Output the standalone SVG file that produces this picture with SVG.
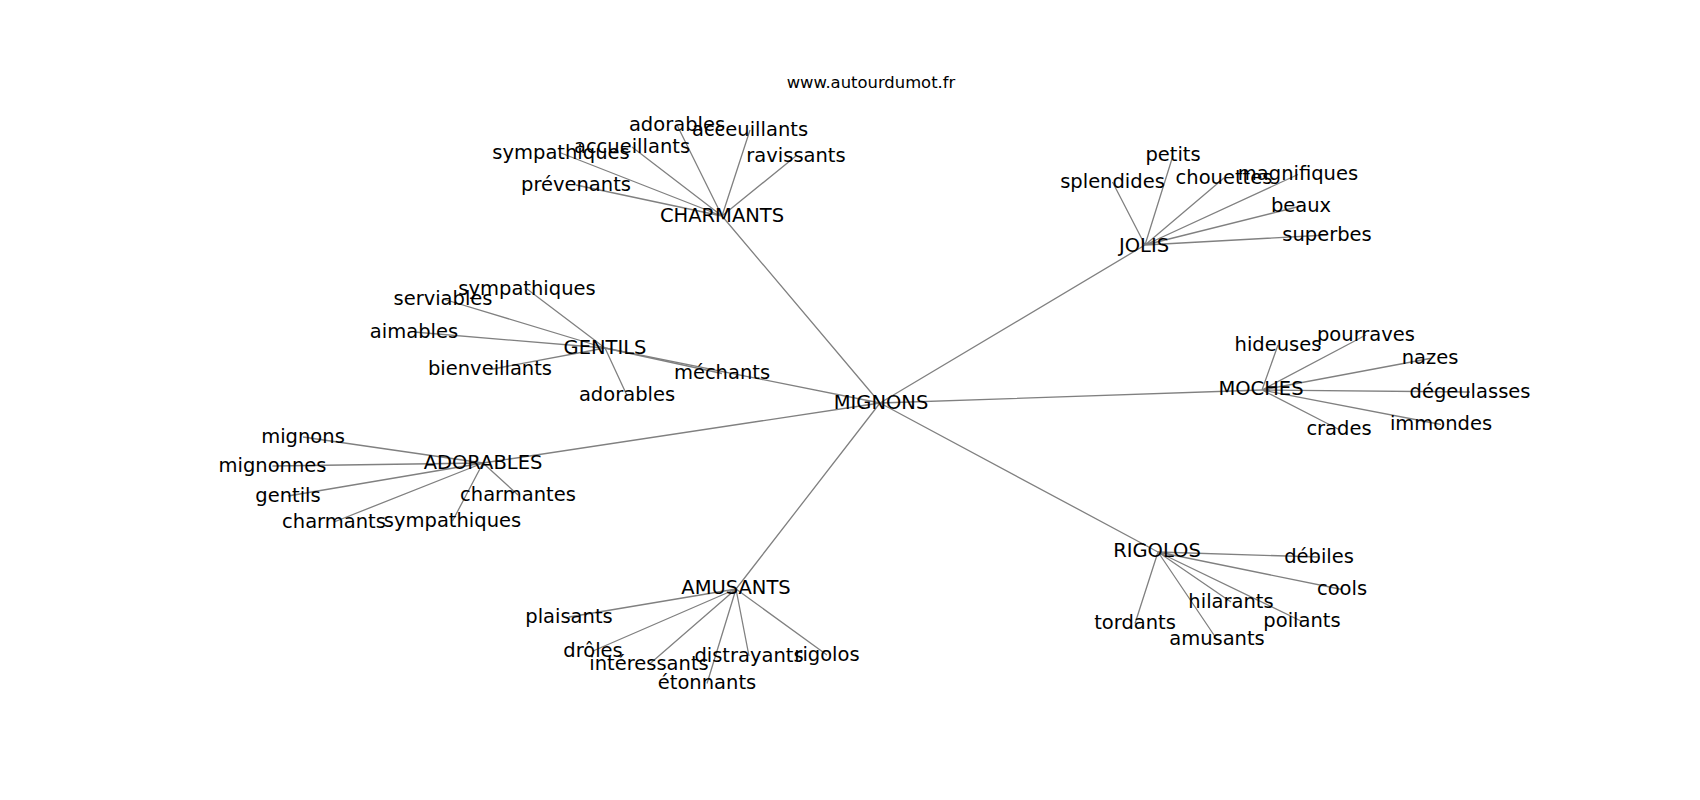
<svg xmlns="http://www.w3.org/2000/svg" width="1700" height="800" viewBox="0 0 1700 800">
<style>
.e{stroke:#808080;stroke-width:1.3;fill:none}
text{font-family:"DejaVu Sans","Liberation Sans",sans-serif;font-size:19.5px;fill:#000;text-anchor:middle}
.t{font-size:16.4px}
</style>
<rect width="1700" height="800" fill="#fff"/>
<text class="t" x="871" y="88">www.autourdumot.fr</text>
<g id="edges">
<path class="e" d="M880,403L722,216M880,403L1145,245M880,403L605,348M880,403L1262,390M880,403L483,463M880,403L736,589M880,403L1158,552"/>
<path class="e" d="M722,216L677,125M722,216L750,130M722,216L796,156M722,216L632,147M722,216L561,153M722,216L576,185"/>
<path class="e" d="M605,348L527,289M605,348L443,299M605,348L414,332M605,348L490,369.5M605,348L627,395.5M605,348L722,373.5"/>
<path class="e" d="M483,463L303,437M483,463L272.5,466M483,463L288,496M483,463L334,522M483,463L452.5,521M483,463L518,495"/>
<path class="e" d="M1145,245L1173,155.5M1145,245L1112.5,182M1145,245L1224,178M1145,245L1298,174.5M1145,245L1301,206M1145,245L1327,235"/>
<path class="e" d="M1262,390L1278,345M1262,390L1366,335M1262,390L1430,358.5M1262,390L1470,392M1262,390L1441,424.5M1262,390L1339,429.5"/>
<path class="e" d="M1158,552L1319,557M1158,552L1342,589.5M1158,552L1231,602M1158,552L1302,621.5M1158,552L1135,623.5M1158,552L1217,639.5"/>
<path class="e" d="M736,589L569,617M736,589L593,651M736,589L649,664.5M736,589L707,683.5M736,589L749,656M736,589L827,655"/>
</g>
<g id="n-mignons"><text x="881" y="408.5">MIGNONS</text></g>
<g id="n-charmants"><text x="722" y="221.5">CHARMANTS</text></g>
<g id="n-charmants-adorables"><text x="677" y="130.5">adorables</text></g>
<g id="n-charmants-acceuillants"><text x="750" y="135.5">acceuillants</text></g>
<g id="n-charmants-ravissants"><text x="796" y="161.5">ravissants</text></g>
<g id="n-charmants-accueillants"><text x="632" y="152.5">accueillants</text></g>
<g id="n-charmants-sympathiques"><text x="561" y="158.5">sympathiques</text></g>
<g id="n-charmants-prevenants"><text x="576" y="190.5">prévenants</text></g>
<g id="n-gentils"><text x="605" y="353.5">GENTILS</text></g>
<g id="n-gentils-sympathiques"><text x="527" y="294.5">sympathiques</text></g>
<g id="n-gentils-serviables"><text x="443" y="304.5">serviables</text></g>
<g id="n-gentils-aimables"><text x="414" y="337.5">aimables</text></g>
<g id="n-gentils-bienveillants"><text x="490" y="375">bienveillants</text></g>
<g id="n-gentils-adorables"><text x="627" y="401">adorables</text></g>
<g id="n-gentils-mechants"><text x="722" y="379">méchants</text></g>
<g id="n-adorables"><text x="483" y="468.5">ADORABLES</text></g>
<g id="n-adorables-mignons"><text x="303" y="442.5">mignons</text></g>
<g id="n-adorables-mignonnes"><text x="272.5" y="471.5">mignonnes</text></g>
<g id="n-adorables-gentils"><text x="288" y="501.5">gentils</text></g>
<g id="n-adorables-charmants"><text x="334" y="527.5">charmants</text></g>
<g id="n-adorables-sympathiques"><text x="452.5" y="526.5">sympathiques</text></g>
<g id="n-adorables-charmantes"><text x="518" y="500.5">charmantes</text></g>
<g id="n-jolis"><text x="1144" y="251.5">JOLIS</text></g>
<g id="n-jolis-petits"><text x="1173" y="161">petits</text></g>
<g id="n-jolis-splendides"><text x="1112.5" y="187.5">splendides</text></g>
<g id="n-jolis-chouettes"><text x="1224" y="183.5">chouettes</text></g>
<g id="n-jolis-magnifiques"><text x="1298" y="180">magnifiques</text></g>
<g id="n-jolis-beaux"><text x="1301" y="211.5">beaux</text></g>
<g id="n-jolis-superbes"><text x="1327" y="240.5">superbes</text></g>
<g id="n-moches"><text x="1261" y="395">MOCHES</text></g>
<g id="n-moches-hideuses"><text x="1278" y="350.5">hideuses</text></g>
<g id="n-moches-pourraves"><text x="1366" y="340.5">pourraves</text></g>
<g id="n-moches-nazes"><text x="1430" y="364">nazes</text></g>
<g id="n-moches-degeulasses"><text x="1470" y="397.5">dégeulasses</text></g>
<g id="n-moches-immondes"><text x="1441" y="430">immondes</text></g>
<g id="n-moches-crades"><text x="1339" y="435">crades</text></g>
<g id="n-rigolos"><text x="1157" y="557">RIGOLOS</text></g>
<g id="n-rigolos-debiles"><text x="1319" y="562.5">débiles</text></g>
<g id="n-rigolos-cools"><text x="1342" y="595">cools</text></g>
<g id="n-rigolos-hilarants"><text x="1231" y="607.5">hilarants</text></g>
<g id="n-rigolos-poilants"><text x="1302" y="627">poilants</text></g>
<g id="n-rigolos-tordants"><text x="1135" y="629">tordants</text></g>
<g id="n-rigolos-amusants"><text x="1217" y="645">amusants</text></g>
<g id="n-amusants"><text x="736" y="593.5">AMUSANTS</text></g>
<g id="n-amusants-plaisants"><text x="569" y="622.5">plaisants</text></g>
<g id="n-amusants-droles"><text x="593" y="656.5">drôles</text></g>
<g id="n-amusants-interessants"><text x="649" y="670">intéressants</text></g>
<g id="n-amusants-etonnants"><text x="707" y="689">étonnants</text></g>
<g id="n-amusants-distrayants"><text x="749" y="661.5">distrayants</text></g>
<g id="n-amusants-rigolos"><text x="827" y="660.5">rigolos</text></g>
</svg>
